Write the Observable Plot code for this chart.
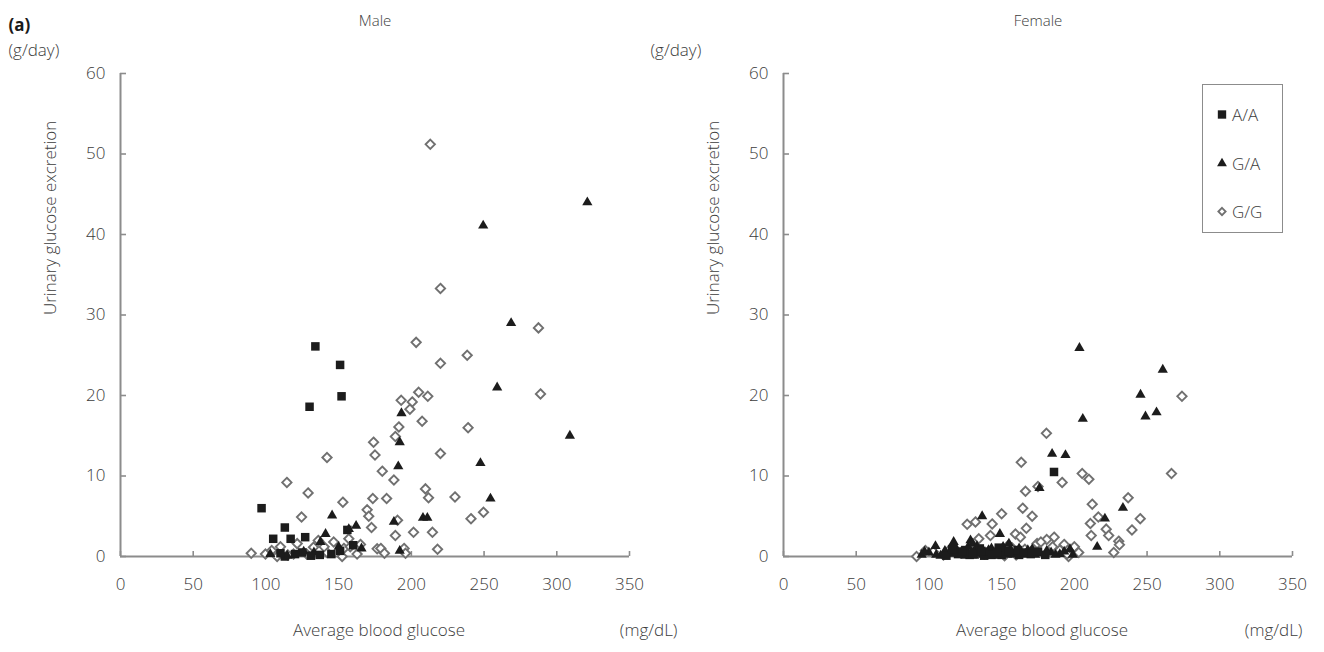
<!DOCTYPE html>
<html>
<head>
<meta charset="utf-8">
<script src="https://cdn.jsdelivr.net/npm/d3@7"></script>
<script src="https://cdn.jsdelivr.net/npm/@observablehq/plot@0.6"></script>
<style>
  body { margin: 0; background: #fff; }
  #wrap { position: relative; width: 1324px; height: 652px; overflow: hidden; font-family: "Open Sans", "Noto Sans", sans-serif; }
  #male, #female { position: absolute; top: 0; }
  #male { left: 0; }
  #female { left: 662px; }
  svg { overflow: visible; }
  #legend { position: absolute; left: 1202px; top: 84px; width: 79px; height: 147px; border: 1.6px solid #8c8c8c; box-sizing: content-box; }
  .item { position: absolute; left: 12px; height: 20px; display: flex; align-items: center; font-size: 17px; color: #3c3c3c; font-weight: 300; }
  .item svg { margin-right: 3px; }
</style>
</head>
<body>
<div id="wrap">
  <div id="male"></div>
  <div id="female"></div>
  <div id="legend"></div>
</div>
<script>
// ---- data ----
const panels = ["Male", "Female"];
const genotypes = ["A/A", "G/A", "G/G"];
const xTicks = [0, 50, 100, 150, 200, 250, 300, 350];
const yTicks = [0, 10, 20, 30, 40, 50, 60];

// [average blood glucose (mg/dL), urinary glucose excretion (g/day)]
const maleAA = [[97,6.0],[113,3.6],[105,2.2],[117,2.2],[127,2.4],[131,0.1],[113,0],[134,26.1],[151,23.8],[152,19.9],[130,18.6],[156,3.3],[151,0.7],[120,0.3],[125,0.5],[110,0.4],[137,0.2],[145,0.3],[160,1.4]];
const maleGA = [[145.5,5.1],[141,2.8],[162,3.8],[157,3.4],[165.7,1.0],[114.6,0.1],[137.5,1.8],[133,0.5],[321,44],[249.4,41.1],[268.6,29.0],[259,21.0],[193.2,17.8],[192,14.2],[309,15.0],[191,11.2],[188,4.3],[192,0.7],[208,4.8],[211,4.8],[247.5,11.6],[254.4,7.2],[150,1.2],[126,0.6],[103,0.3]];
const maleGG = [[89.9,0.4],[114.4,9.2],[124.5,4.9],[129,7.9],[142,12.3],[152.9,6.75],[174,14.2],[175,12.6],[173.5,7.2],[169.6,5.8],[170.7,5.0],[172.6,3.6],[99.7,0.3],[104,0.75],[107.7,0],[110,1.2],[121.5,1.6],[132.7,1.15],[142,0.5],[146.6,1.8],[153.6,1.0],[157,2.2],[158,1.2],[162.7,0.3],[119,0.3],[128,0.3],[152.4,0],[176.5,0.95],[213,51.2],[220,33.3],[287.4,28.4],[203.3,26.6],[220,24.0],[238.4,25.0],[288.8,20.2],[193,19.4],[200.6,19.2],[205,20.4],[211.3,19.9],[199,18.3],[207.4,16.8],[239,16.0],[191.4,16.1],[189,14.9],[220,12.8],[180,10.6],[188,9.5],[183,7.2],[190.5,4.5],[189,2.6],[195,1.0],[196,0.4],[179,1.0],[181.5,0.4],[201.5,3.0],[209.7,8.4],[211.8,7.3],[214.5,3.0],[218,0.9],[230,7.4],[241,4.7],[249.6,5.5],[165,1.5],[115,0.2],[136,2.0],[140,1.2]];

const femaleAA = [[186,10.5],[120,0.3],[125,0.8],[128,0.2],[132,0.5],[138,0.1],[141,0.6],[145,0.3],[150,0.2],[153,0.7],[158,0.4],[162,0.2],[112,0.1],[117,0.5],[135,1.0],[148,1.1],[170,0.3],[180,0.2],[116,0.9],[123,0.6],[130,0.3],[136,0.7],[143,0.2],[147,0.5],[155,0.6],[161,0.8],[165,0.5],[175,0.6]];
const femaleGA = [[203.5,25.9],[260.8,23.2],[245.5,20.1],[248.9,17.4],[256.5,17.9],[205.8,17.1],[184.7,12.75],[193.9,12.6],[176,8.5],[233.4,6.05],[221,4.7],[215.7,1.2],[136.6,5.0],[148.8,2.8],[128.6,2.0],[104.5,1.3],[95,0.2],[100,0.5],[108,0.1],[114,0.4],[119,0.9],[123,0.2],[127,1.2],[131,0.1],[134,0.6],[139,0.3],[143,1.0],[146,0.1],[152,0.4],[156,0.9],[160,0.6],[164,0.3],[168,0.8],[173,0.2],[184,0.5],[190,0.3],[199,0.2],[155,1.6],[130,1.6],[117,1.8],[97,0.6],[105,0.2],[111,0.7],[121,0.4],[125,0.1],[129,0.5],[133,1.3],[137,0.2],[141,0.8],[144,0.4],[149,0.6],[151,1.2],[154,0.2],[158,0.3],[162,1.0],[166,0.2],[171,0.9],[176,0.4],[181,0.7],[187,0.2],[193,0.6],[197,0.9]];
const femaleGG = [[163.5,11.7],[166.4,8.1],[164.5,6.0],[171,5.0],[167,3.5],[150,5.3],[143.5,4.05],[132,4.3],[126.3,4.0],[142.3,2.6],[134.3,2.2],[159.5,2.8],[162.9,2.4],[91.5,0],[97.6,0.75],[154.7,1.4],[174.4,1.6],[274,19.9],[180.8,15.3],[205.4,10.3],[210,9.6],[191.6,9.2],[266.8,10.3],[175,8.7],[212.3,6.5],[237,7.3],[216.5,4.9],[245.3,4.7],[239.6,3.3],[211,4.1],[221.9,3.4],[211.6,2.6],[223.6,2.6],[230.5,1.9],[231,1.45],[227.1,0.5],[203,0.5],[196,0],[186.1,2.4],[181,2.1],[177,1.8],[185,1.2],[190,0.8],[193,1.5],[170,0.6],[160,0.2],[147,0.8],[138,0.3],[122,0.5],[110,0.2],[103,0.6],[115,1.0],[128,0.9],[152,0.1],[157,1.1],[166,0.9],[200,1.2],[195,0.3]];

// ---- styles ----
const FONT = "'Open Sans','Noto Sans',sans-serif";
const axisColor = "#8c8c8c";
const textColor = "#3c3c3c";
const solidColor = "#1c1c1c";
const openColor = "#707070";

function panel({title, AA, GA, GG, marginLeft, marginRight, yUnitDx, unitDx, first}) {
  const marks = [
    Plot.ruleY([0], {stroke: axisColor, strokeWidth: 2}),
    Plot.ruleX([0], {stroke: axisColor, strokeWidth: 2}),
    Plot.axisX({ticks: xTicks, tickSize: -5, stroke: axisColor, strokeWidth: 1.6, tickFormat: () => "", label: null}),
    Plot.axisX({ticks: xTicks, tickSize: 0, tickPadding: 21, fontSize: 17, fill: textColor, fontWeight: 300, label: null}),
    Plot.axisY({ticks: yTicks, tickSize: -6, stroke: axisColor, strokeWidth: 1.6, tickFormat: () => "", label: null}),
    Plot.axisY({ticks: yTicks, tickSize: 0, tickPadding: 15, fontSize: 17, fill: textColor, fontWeight: 300, label: null}),
    Plot.dot(GG, {x: d => d[0], y: d => d[1], symbol: "diamond2", r: 4.2, stroke: openColor, strokeWidth: 1.9, fill: "white"}),
    Plot.dot(GA, {x: d => d[0], y: d => d[1], symbol: "triangle", r: 3.8, fill: solidColor}),
    Plot.dot(AA, {x: d => d[0], y: d => d[1], symbol: "square", r: 4.8, fill: solidColor}),
    Plot.text([title], {text: d => d, frameAnchor: "top", dy: -58, fontSize: 15, fill: textColor, fontWeight: 300}),
    Plot.text(["(g/day)"], {text: d => d, frameAnchor: "top-left", textAnchor: "start", dx: yUnitDx, dy: -30, fontSize: 17, fill: textColor, fontWeight: 300}),
    Plot.text(["Urinary glucose excretion"], {text: d => d, frameAnchor: "left", rotate: -90, dx: -70, fontSize: 17, fill: textColor, fontWeight: 300}),
    Plot.text(["Average blood glucose"], {text: d => d, frameAnchor: "bottom", dx: 4, dy: 79, fontSize: 17, fill: textColor, fontWeight: 300}),
    Plot.text(["(mg/dL)"], {text: d => d, frameAnchor: "bottom-right", textAnchor: "end", dx: unitDx, dy: 79, fontSize: 17, fill: textColor, fontWeight: 300})
  ];
  if (first) {
    marks.push(Plot.text(["(a)"], {text: d => d, frameAnchor: "top-left", textAnchor: "start", dx: -112, dy: -55, fontSize: 17, fontWeight: "bold", fill: "#1a1a1a"}));
  }
  return Plot.plot({
    width: 662, height: 652,
    marginLeft, marginRight, marginTop: 73, marginBottom: 96,
    x: {domain: [0, 350]},
    y: {domain: [0, 60]},
    style: {background: "transparent", overflow: "visible", fontFamily: FONT, color: textColor},
    marks
  });
}

document.getElementById("male").append(panel({title: panels[0], AA: maleAA, GA: maleGA, GG: maleGG, marginLeft: 120, marginRight: 33, yUnitDx: -112, unitDx: 48, first: true}));
document.getElementById("female").append(panel({title: panels[1], AA: femaleAA, GA: femaleGA, GG: femaleGG, marginLeft: 121, marginRight: 32, yUnitDx: -133, unitDx: 10, first: false}));

// ---- legend (female panel) ----
const legend = d3.select("#legend");
const legendSymbols = [
  {type: d3.symbolSquare, size: 70, fill: solidColor, stroke: "none", sw: 0},
  {type: d3.symbolTriangle, size: 42, fill: solidColor, stroke: "none", sw: 0},
  {type: d3.symbolDiamond2, size: 34, fill: "white", stroke: openColor, sw: 1.8}
];
const legendTops = [19, 68, 116];
genotypes.forEach((g, i) => {
  const item = legend.append("div").attr("class", "item").style("top", legendTops[i] + "px");
  const s = legendSymbols[i];
  const svg = item.append("svg").attr("width", 14).attr("height", 14);
  svg.append("path")
    .attr("transform", "translate(7,7.5)")
    .attr("d", d3.symbol(s.type, s.size)())
    .attr("fill", s.fill).attr("stroke", s.stroke).attr("stroke-width", s.sw);
  item.append("span").text(g);
});
</script>
</body>
</html>
